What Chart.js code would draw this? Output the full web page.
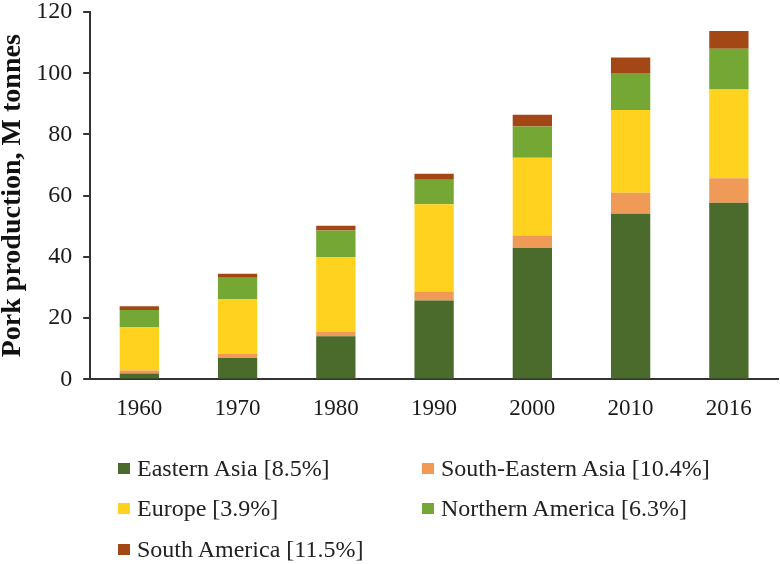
<!DOCTYPE html>
<html>
<head>
  <title>Pork production</title>
  <script src="https://cdn.jsdelivr.net/npm/chart.js@4"></script>
  <style>
    body { margin: 0; background: #fff; overflow: hidden; }
    #wrap { position: relative; width: 780px; height: 564px; overflow: hidden; }
    #chartBox { position: absolute; left: 0; top: -11px; width: 780px; height: 442px; }
    #legend { position: absolute; left: 0; top: 0; width: 780px; height: 564px; font-family: 'Liberation Serif', 'Times New Roman', serif; font-size: 24px; color: #222; pointer-events: none; }
    .item { position: absolute; height: 28px; display: flex; align-items: center; white-space: nowrap; }
    .box { display: inline-block; width: 12px; height: 11px; margin-right: 7px; }
  </style>
</head>
<body>
<div id="wrap">
  <div id="chartBox"><canvas id="myChart"></canvas></div>
  <div id="legend"></div>
</div>
<script>
  // Years on the x axis
  const years = ['1960', '1970', '1980', '1990', '2000', '2010', '2016'];

  // Production by region, million tonnes
  const easternAsia = [1.9, 7.0, 14.1, 25.8, 42.9, 54.1, 57.7];
  const southEasternAsia = [1.0, 1.3, 1.4, 2.9, 4.1, 6.9, 8.0];
  const europe = [14.2, 18.0, 24.5, 28.5, 25.4, 27.0, 29.0];
  const northernAmerica = [5.6, 6.9, 8.6, 8.0, 10.2, 12.1, 13.3];
  const southAmerica = [1.2, 1.3, 1.6, 2.0, 3.8, 5.0, 5.8];

  const labels = ['Eastern Asia [8.5%]', 'South-Eastern Asia [10.4%]', 'Europe [3.9%]', 'Northern America [6.3%]', 'South America [11.5%]'];
  const colors = ['#4a6b2b', '#f09a57', '#ffd21f', '#74a733', '#a44717'];
  const series = [easternAsia, southEasternAsia, europe, northernAmerica, southAmerica];

  const datasets = series.map((data, i) => ({
    label: labels[i],
    data: data,
    backgroundColor: colors[i],
    borderWidth: 0,
    barPercentage: 0.4,
    categoryPercentage: 1.0
  }));

  const serif = "'Liberation Serif', 'Times New Roman', serif";

  new Chart(document.getElementById('myChart'), {
    type: 'bar',
    data: { labels: years, datasets: datasets },
    options: {
      responsive: true,
      maintainAspectRatio: false,
      animation: false,
      layout: { padding: { top: 0, right: 2, left: 0, bottom: 0 } },
      plugins: {
        legend: { display: false },
        tooltip: { enabled: false }
      },
      scales: {
        x: {
          stacked: true,
          grid: { display: false },
          border: { color: '#333', width: 2 },
          ticks: { color: '#1a1a1a', font: { family: serif, size: 23, lineHeight: 1.2 }, padding: 8 }
        },
        y: {
          stacked: true,
          min: 0,
          max: 120,
          grid: { drawOnChartArea: false, drawTicks: true, tickLength: 7, color: '#333', lineWidth: 2 },
          border: { color: '#333', width: 2 },
          ticks: { stepSize: 20, color: '#1a1a1a', font: { family: serif, size: 24, lineHeight: 1 }, padding: 11 },
          title: {
            display: true,
            text: 'Pork production, M tonnes',
            color: '#111',
            font: { family: serif, size: 28, weight: 'bold', lineHeight: 0.9 },
            padding: { top: 0, bottom: 0 }
          }
        }
      }
    }
  });

  // Two-column legend below the chart
  const legendPos = [[118, 454], [422, 454], [118, 494], [422, 494], [118, 535]];
  const legend = document.getElementById('legend');
  labels.forEach((text, i) => {
    const item = document.createElement('div');
    item.className = 'item';
    item.style.left = legendPos[i][0] + 'px';
    item.style.top = legendPos[i][1] + 'px';
    item.innerHTML = '<span class="box" style="background:' + colors[i] + '"></span>' + text;
    legend.appendChild(item);
  });
</script>
</body>
</html>
